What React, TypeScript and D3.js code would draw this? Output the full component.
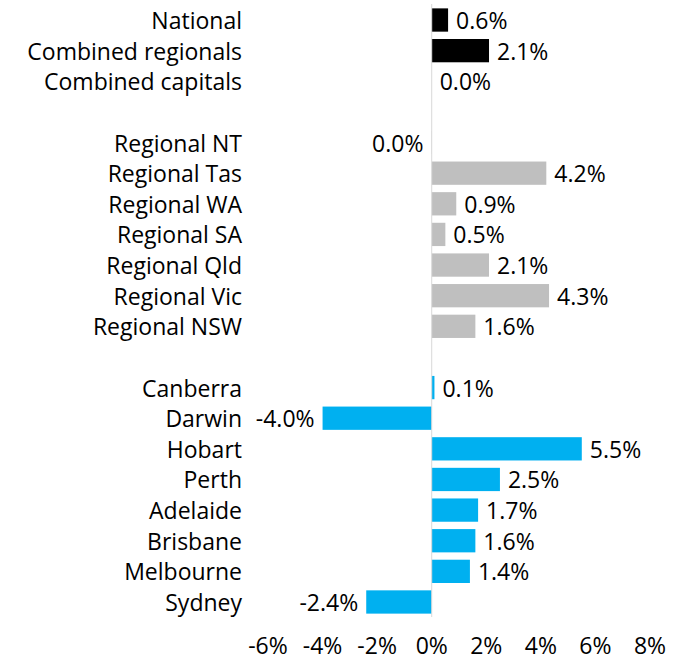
import React from "react";
import * as d3 from "d3";

const categories = [
  "National", "Combined regionals", "Combined capitals", "",
  "Regional NT", "Regional Tas", "Regional WA", "Regional SA", "Regional Qld", "Regional Vic", "Regional NSW", " ",
  "Canberra", "Darwin", "Hobart", "Perth", "Adelaide", "Brisbane", "Melbourne", "Sydney",
];
const values: (number | null)[] = [
  0.6, 2.1, 0.0, null,
  -0.01, 4.2, 0.9, 0.5, 2.1, 4.3, 1.6, null,
  0.1, -4.0, 5.5, 2.5, 1.7, 1.6, 1.4, -2.4,
];
const groups = [
  "agg", "agg", "agg", "",
  "reg", "reg", "reg", "reg", "reg", "reg", "reg", "",
  "cap", "cap", "cap", "cap", "cap", "cap", "cap", "cap",
];
const tickValues = [-6, -4, -2, 0, 2, 4, 6, 8];
const colors: Record<string, string> = { agg: "#000000", reg: "#bfbfbf", cap: "#00b0f0" };

export default function App() {
  const W = 683, H = 663;
  const x = d3.scaleLinear().domain([-6, 8]).range([268, 650]);
  const y = d3.scaleBand().domain(categories).range([4.7, 617.3]).paddingInner(0.24).paddingOuter(0.12);
  const font = "'Open Sans', Lato, sans-serif";
  const fs = 23;
  const fmt = (v: number) => {
    const s = v.toFixed(1);
    return (s === "-0.0" ? "0.0" : s) + "%";
  };
  return (
    <svg width={W} height={H} style={{ position: "absolute", left: 0, top: 0 }}>
      <rect width={W} height={H} fill="#fff" />
      {categories.map((c, i) => {
        const v = values[i];
        if (v === null) return null;
        const yc = (y(c) ?? 0) + y.bandwidth() / 2;
        const x0 = x(Math.min(0, v));
        const x1 = x(Math.max(0, v));
        return (
          <g key={c}>
            <text x={242} y={yc} textAnchor="end" dominantBaseline="central" fontFamily={font} fontSize={fs} fill="#000">{c}</text>
            <rect x={x0} y={y(c)} width={Math.max(0, x1 - x0)} height={y.bandwidth()} fill={colors[groups[i]]} />
            <text
              x={v < 0 ? x0 - 8 : x1 + 8}
              y={yc}
              textAnchor={v < 0 ? "end" : "start"}
              dominantBaseline="central"
              fontFamily={font}
              fontSize={fs}
              fill="#000"
            >{fmt(v)}</text>
          </g>
        );
      })}
      <line x1={x(0)} x2={x(0)} y1={4} y2={617} stroke="#d9d9d9" strokeWidth={1} />
      {tickValues.map((t) => (
        <text key={t} x={x(t)} y={645} textAnchor="middle" dominantBaseline="central" fontFamily={font} fontSize={fs} fill="#000">{t + "%"}</text>
      ))}
    </svg>
  );
}
